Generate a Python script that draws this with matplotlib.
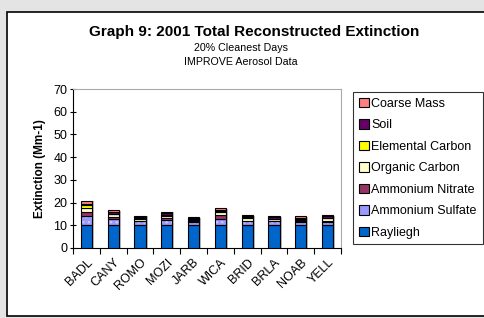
import numpy as np
import matplotlib
matplotlib.use("Agg")
from matplotlib import pyplot as plt
from matplotlib.patches import Rectangle, Patch

plt.rcParams['font.family'] = ['Liberation Sans', 'DejaVu Sans']

sites = ["BADL", "CANY", "ROMO", "MOZI", "JARB", "WICA", "BRID", "BRLA", "NOAB", "YELL"]
rayleigh = [10, 10, 10, 10, 10, 10, 10, 10, 10, 10]
amm_sulfate = [4.0, 2.8, 1.7, 2.5, 1.5, 2.8, 1.8, 1.8, 1.6, 1.5]
amm_nitrate = [1.8, 0.7, 0.3, 0.5, 0.2, 1.8, 0.2, 0.2, 0.3, 0.3]
organic = [2.0, 1.3, 0.8, 1.2, 0.6, 1.2, 1.0, 0.6, 0.6, 1.2]
elemental = [1.2, 0.3, 0.3, 0.4, 0.3, 0.4, 0.8, 0.3, 0.3, 0.4]
soil = [0.5, 0.9, 0.7, 0.6, 0.8, 0.6, 0.4, 0.8, 0.6, 0.5]
coarse = [1.4, 0.8, 0.5, 0.8, 0.2, 0.8, 0.3, 0.3, 0.5, 0.5]

series = [
    ("Rayliegh", rayleigh, "#0066CC"),
    ("Ammonium Sulfate", amm_sulfate, "#9999FF"),
    ("Ammonium Nitrate", amm_nitrate, "#993366"),
    ("Organic Carbon", organic, "#FFFFCC"),
    ("Elemental Carbon", elemental, "#FFFF00"),
    ("Soil", soil, "#660066"),
    ("Coarse Mass", coarse, "#FF8080"),
]

fig = plt.figure(figsize=(4.84, 3.18), dpi=100)
fig.patch.set_facecolor("#E4E4E4")
fig.patches.append(Rectangle((7 / 484, 2 / 318), 1, 1 - 14 / 318, transform=fig.transFigure,
                             facecolor="white", edgecolor="black", linewidth=1.2, zorder=-5))

ax = fig.add_axes([73 / 484, 1 - 248 / 318, 268 / 484, 159 / 318])
ax.set_facecolor("none")
x = np.arange(len(sites))
w = 0.42
bottom = np.zeros(len(sites))
handles = []
for name, vals, col in series:
    vals = np.array(vals)
    # shadow
    ax.bar(x + 0.07, vals, w, bottom=bottom - 0.35, color="#BBBBBB", linewidth=0, zorder=1)
    if name == "Ammonium Sulfate":
        ax.bar(x, vals, w, bottom=bottom, color=col, edgecolor="#C8C8FF", hatch="...",
               linewidth=0, zorder=2)
        ax.bar(x, vals, w, bottom=bottom, facecolor="none", edgecolor="black", linewidth=0.8, zorder=3)
    else:
        ax.bar(x, vals, w, bottom=bottom, color=col, edgecolor="black", linewidth=0.8, zorder=3)
    handles.append(Patch(facecolor=col, edgecolor="black", linewidth=0.8, label=name))
    bottom += vals

ax.set_xlim(-0.5, len(sites) - 0.5)
ax.set_ylim(0, 70)
ax.set_yticks(range(0, 71, 10))
ax.set_xticks(x)
ax.set_xticklabels(sites, rotation=45, ha="right", va="top", rotation_mode="anchor", fontsize=9)
ax.set_xticks(np.arange(-0.5, len(sites), 1), minor=True)
ax.tick_params(axis="x", which="major", length=0, pad=6)
ax.tick_params(axis="x", which="minor", length=4, direction="out", width=0.8)
ax.tick_params(axis="y", length=4, direction="inout", width=0.8, labelsize=9, pad=2)
for s in ["top", "right"]:
    ax.spines[s].set_color("#AAAAAA")
    ax.spines[s].set_linewidth(0.8)
for s in ["left", "bottom"]:
    ax.spines[s].set_linewidth(0.8)
ax.set_ylabel("Extinction (Mm-1)", fontsize=8.5, fontweight="bold", labelpad=5)

fig.text(254 / 484, 1 - 32 / 318, "Graph 9: 2001 Total Reconstructed Extinction",
         ha="center", va="center", fontsize=11, fontweight="bold")
fig.text(241 / 484, 1 - 48 / 318, "20% Cleanest Days", ha="center", va="center", fontsize=7.7)
fig.text(241 / 484, 1 - 62 / 318, "IMPROVE Aerosol Data", ha="center", va="center", fontsize=7.7)

leg = fig.legend(handles=handles[::-1], loc="upper left",
                 bbox_to_anchor=(353 / 484, 1 - 233 / 318, 130 / 484, 141 / 318),
                 mode="expand", fontsize=9, frameon=True, fancybox=False,
                 handlelength=0.8, handleheight=0.8, handletextpad=0.2,
                 borderaxespad=0, labelspacing=0.75, borderpad=0.45)
leg.get_frame().set_edgecolor("black")
leg.get_frame().set_linewidth(0.8)

fig.savefig("out.png", dpi=100, facecolor=fig.get_facecolor())
